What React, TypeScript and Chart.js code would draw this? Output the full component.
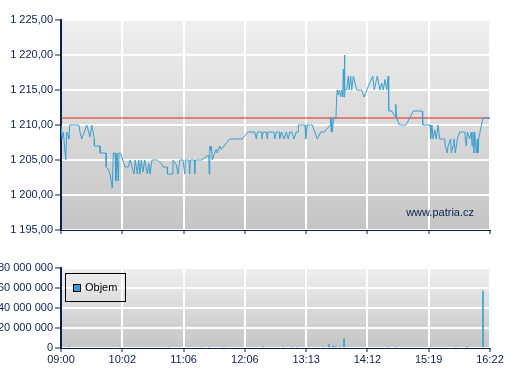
import React, { useEffect, useRef } from "react";
import { Chart, registerables } from "chart.js";

Chart.register(...registerables);

// x positions are trade-index units (0..420), labelled every 60 units
const tickLabels = ["09:00", "10:02", "11:06", "12:06", "13:13", "14:12", "15:19", "16:22"];

const priceX = [
  0, 1, 2.3, 4.6, 5.6, 6.9, 7.8, 8.5, 17.6, 18.6, 20.3, 22.8, 25.2, 28.4, 30.1, 32.6, 32.7, 38.2, 38.3, 44.1,
  44.2, 46.3, 48, 50.2, 51.2, 52.9, 53.8, 54.8, 56.1, 56.8, 58.3, 62.7, 65.9, 67.6, 71.5, 72.7, 74.7, 76.1, 77.3, 78.6,
  80.3, 81.9, 84.5, 85.9, 87.1, 89.1, 94.3, 98.2, 99.9, 104.1, 104.2, 108.7, 109.6, 112.9, 114.5, 116.2, 119.4, 121.1, 121.7, 125.3,
  126, 126.6, 130.5, 130.9, 131.5, 138, 142.3, 144.7, 145, 145.7, 146.6, 147.2, 148.2, 149.8, 152, 153, 155.4, 156.9, 159.6, 165.2,
  177.2, 183.1, 189.6, 191.2, 192.2, 196.5, 196.8, 197.8, 201, 202, 202.7, 208.5, 209.4, 210.7, 214, 214.1, 216, 218.3, 220.6, 222.5,
  223.9, 225.9, 228.1, 230.4, 232.1, 232.4, 238.9, 239.6, 241.2, 246.1, 250.9, 254.3, 257.8, 262.4, 263.6, 264, 264.6, 265, 265.6, 267,
  269.2, 269.9, 270.5, 271.5, 272.5, 273.8, 274.8, 275.8, 276.4, 277.1, 277.4, 278, 279.7, 281.3, 282.2, 283.6, 284.6, 286.2, 289.5, 294.4,
  296.6, 300.8, 305.2, 306.7, 309.7, 312.3, 314, 315.5, 317.2, 318.9, 320.4, 320.8, 323.8, 327, 327.7, 328.7, 331.2, 337.8, 344.9, 353.7,
  354.1, 361.3, 361.9, 363.2, 364.2, 365.9, 367.4, 369.1, 370.8, 375.7, 376.2, 378.2, 378.9, 381.5, 382.1, 383.8, 384.7, 386, 388, 390.3,
  393.6, 395.2, 396.8, 397.8, 400.1, 401.7, 402.4, 403.3, 404.3, 405, 406.6, 407.6, 408.2, 408.9, 413.1, 420
];

const priceY = [
  1210, 1208, 1209, 1205, 1209, 1208.5, 1208, 1210, 1210, 1209, 1208, 1209, 1210, 1208.3, 1210, 1208, 1207, 1207, 1206, 1206,
  1204, 1203.7, 1203, 1201, 1206, 1206, 1202, 1206, 1202, 1206, 1206, 1204, 1204, 1205, 1203, 1205, 1203, 1205, 1203, 1205,
  1203.3, 1205, 1203, 1204.5, 1203, 1205, 1205, 1204.5, 1204, 1204, 1203, 1203, 1205, 1204.3, 1203, 1205, 1205, 1203, 1205, 1205,
  1203, 1205, 1205, 1203, 1205, 1205, 1205.5, 1205.7, 1203, 1207, 1206.3, 1207, 1205, 1205.7, 1206.5, 1206, 1207, 1206.5, 1207, 1208,
  1208, 1209, 1209, 1208, 1209, 1209, 1208, 1209, 1209, 1208, 1209, 1209, 1208, 1209, 1209, 1208, 1209, 1208, 1209, 1208,
  1209, 1209, 1208, 1209, 1209, 1210, 1210, 1208, 1210, 1210, 1208, 1209, 1209, 1209.8, 1210, 1211, 1209, 1211, 1209, 1211,
  1211, 1214, 1215, 1214.3, 1215, 1214, 1215, 1214, 1218, 1214, 1220, 1215, 1215, 1217, 1215, 1217, 1215, 1217, 1215, 1215,
  1214, 1215.5, 1217, 1215, 1217, 1215, 1216, 1215, 1216.5, 1215, 1217, 1212, 1212, 1211.2, 1213, 1211, 1210, 1210, 1212, 1212,
  1210, 1210, 1208, 1210, 1208, 1209.3, 1208, 1210, 1208, 1208, 1207, 1206, 1207, 1208, 1206, 1207, 1208, 1206, 1208, 1209,
  1209, 1209, 1207, 1209, 1208, 1209, 1207, 1209, 1206, 1209, 1206, 1208, 1206, 1208, 1211, 1211
];

const refX = [0, 420];
const refY = [1211, 1211];

const volumeX = [7.8, 57.8, 105.7, 138, 144.9, 159.6, 197.8, 217.3, 226.1, 231, 256.5, 262.4, 266.3, 267.3, 269.2, 273.1, 277.1, 320.1, 328, 361.3, 386.7, 397.5, 413.1];
const volumeY = [1.2e6, 1e6, 1e6, 1e6, 1e6, 1e6, 1.5e6, 1e6, 1e6, 1e6, 1e6, 3.5e6, 2e6, 1.5e6, 1.5e6, 1e6, 9.5e6, 1e6, 1e6, 1e6, 1e6, 1.5e6, 57e6];

const priceTicks = { min: 1195, max: 1225, step: 5 };
const volumeTicks = { min: 0, max: 80e6, step: 20e6 };

const NAVY = "#0a2050";
const LINE = "#3a9fd0";
const FONT = { family: "'Liberation Sans', Arial, sans-serif", size: 11 };

const bgPlugin = {
  id: "bgGrad",
  beforeDraw(chart: any) {
    const { ctx, chartArea } = chart;
    if (!chartArea) return;
    const { left, top, right, bottom } = chartArea;
    const g = ctx.createLinearGradient(0, top, 0, bottom);
    g.addColorStop(0, "#efefef");
    g.addColorStop(1, "#c5c5c5");
    ctx.save();
    ctx.fillStyle = g;
    ctx.fillRect(left, top, right - left, bottom - top);
    ctx.restore();
  },
};

const watermarkPlugin = {
  id: "watermark",
  afterDatasetsDraw(chart: any) {
    const { ctx, chartArea } = chart;
    ctx.save();
    ctx.font = "11px 'Liberation Sans', Arial, sans-serif";
    ctx.fillStyle = NAVY;
    ctx.textAlign = "right";
    ctx.textBaseline = "middle";
    ctx.fillText("www.patria.cz", chartArea.right - 16, chartArea.bottom - 17);
    ctx.restore();
  },
};

const legendPlugin = {
  id: "volLegend",
  afterDraw(chart: any) {
    const { ctx, chartArea } = chart;
    const x = chartArea.left + 4;
    const y = chartArea.top + 5;
    ctx.save();
    ctx.strokeStyle = "#000";
    ctx.lineWidth = 1;
    ctx.strokeRect(x + 0.5, y + 0.5, 60, 28);
    ctx.fillStyle = LINE;
    ctx.fillRect(x + 8, y + 11, 7, 7);
    ctx.strokeRect(x + 8.5, y + 11.5, 7, 7);
    ctx.fillStyle = "#000";
    ctx.font = "11px 'Liberation Sans', Arial, sans-serif";
    ctx.textAlign = "left";
    ctx.textBaseline = "middle";
    ctx.fillText("Objem", x + 20, y + 15);
    ctx.restore();
  },
};

function fmtPrice(v: number) {
  const s = v.toFixed(2).replace(".", ",");
  const [int, dec] = s.split(",");
  return int.replace(/\B(?=(\d{3})+(?!\d))/g, " ") + "," + dec;
}
function fmtVol(v: number) {
  return Math.round(v).toString().replace(/\B(?=(\d{3})+(?!\d))/g, " ");
}

function xScale(showLabels: boolean, height: number) {
  return {
    type: "linear" as const,
    min: 0,
    max: 420,
    offset: false,
    afterFit: (s: any) => { s.height = height; },
    afterBuildTicks: (s: any) => {
      s.ticks = tickLabels.map((_, i) => ({ value: i * 60 }));
    },
    ticks: {
      display: showLabels,
      color: NAVY,
      font: FONT,
      padding: 1,
      maxRotation: 0,
      autoSkip: false,
      callback: (v: any) => tickLabels[Math.round(Number(v) / 60)],
    },
    grid: { offset: false, color: "#ffffff", lineWidth: 2, tickColor: NAVY, tickLength: 4, tickWidth: 1 },
    border: { color: NAVY, width: 1 },
  };
}

function yScale(t: { min: number; max: number; step: number }, fmt: (v: number) => string) {
  return {
    type: "linear" as const,
    min: t.min,
    max: t.max,
    afterFit: (s: any) => { s.width = 61; },
    ticks: { stepSize: t.step, color: NAVY, font: FONT, padding: 2, callback: (v: any) => fmt(Number(v)) },
    grid: { color: "#ffffff", lineWidth: 2, tickColor: NAVY, tickLength: 6, tickWidth: 1 },
    border: { color: NAVY, width: 2 },
  };
}

export default function App() {
  const topRef = useRef<HTMLCanvasElement>(null);
  const botRef = useRef<HTMLCanvasElement>(null);

  useEffect(() => {
    const top = new Chart(topRef.current!, {
      type: "line",
      data: {
        datasets: [
          {
            label: "Kurz",
            data: priceX.map((x, i) => ({ x, y: priceY[i] })),
            borderColor: LINE,
            borderWidth: 1,
            pointRadius: 0,
            tension: 0,
            order: 1,
          },
          {
            label: "Ref",
            data: refX.map((x, i) => ({ x, y: refY[i] })),
            borderColor: "#e02020",
            borderWidth: 1,
            pointRadius: 0,
            order: 2,
          },
        ],
      },
      options: {
        animation: false,
        responsive: false,
        layout: { padding: { top: 20, right: 17, left: 0, bottom: 0 } },
        plugins: { legend: { display: false }, tooltip: { enabled: false } },
        scales: { x: xScale(false, 10), y: yScale(priceTicks, fmtPrice) },
      },
      plugins: [bgPlugin, watermarkPlugin],
    } as any);

    const bot = new Chart(botRef.current!, {
      type: "bar",
      data: {
        datasets: [
          {
            label: "Objem",
            data: volumeX.map((x, i) => ({ x, y: volumeY[i] })),
            backgroundColor: LINE,
            borderWidth: 0,
            barThickness: 1,
          },
        ],
      },
      options: {
        animation: false,
        responsive: false,
        layout: { padding: { top: 28, right: 17, left: 0, bottom: 0 } },
        plugins: { legend: { display: false }, tooltip: { enabled: false } },
        scales: { x: xScale(true, 32), y: yScale(volumeTicks, fmtVol) },
      },
      plugins: [bgPlugin, legendPlugin],
    } as any);

    return () => {
      top.destroy();
      bot.destroy();
    };
  }, []);

  return (
    <div style={{ position: "absolute", left: 0, top: 0, width: 507, height: 380, background: "#fff" }}>
      <canvas ref={topRef} width={507} height={240} style={{ position: "absolute", left: 0, top: 0 }} />
      <canvas ref={botRef} width={507} height={140} style={{ position: "absolute", left: 0, top: 240 }} />
    </div>
  );
}
